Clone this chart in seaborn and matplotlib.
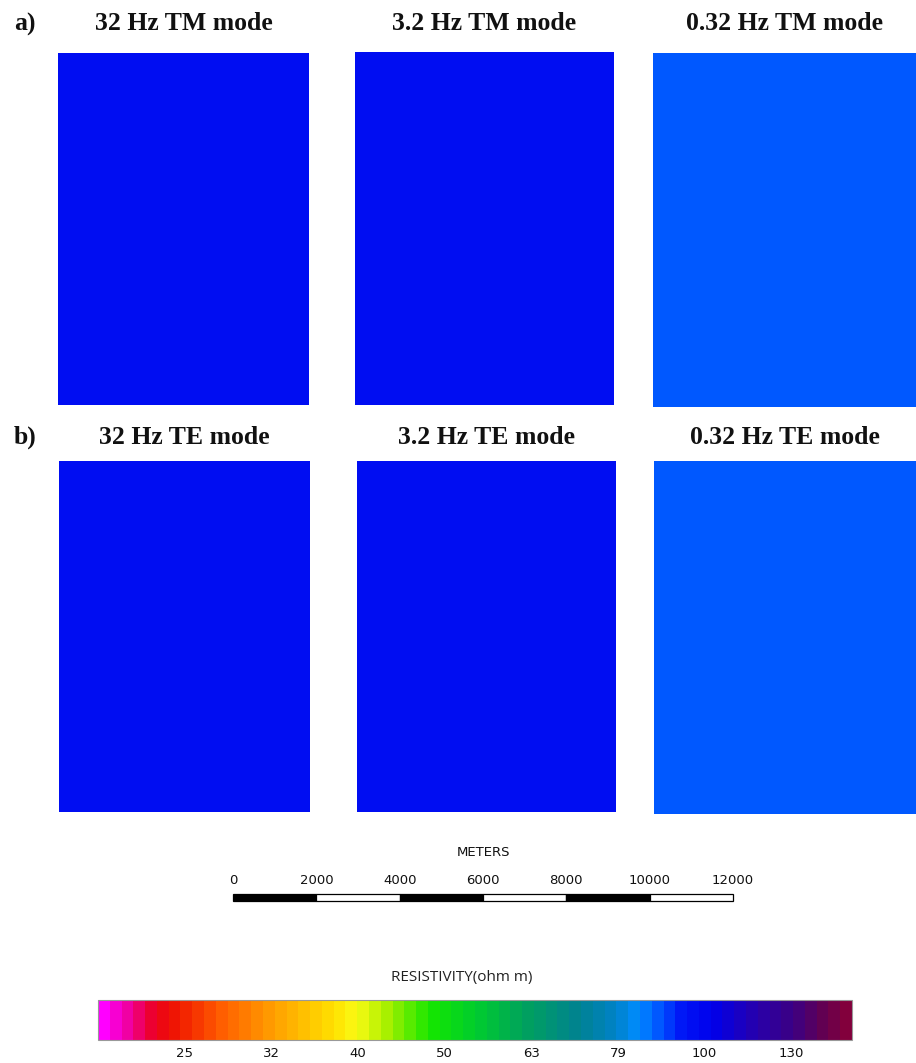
import numpy as np
import matplotlib
matplotlib.use("Agg")
import matplotlib.pyplot as plt
import seaborn as sns
from matplotlib.colors import LinearSegmentedColormap, LogNorm
from matplotlib.cm import ScalarMappable

# Resistivity (ohm m) of each section, left to right: 32 Hz, 3.2 Hz, 0.32 Hz
tm_rho = [96.0, 96.0, 88.5]
te_rho = [96.0, 96.0, 88.5]
tm_titles = ["32 Hz TM mode", "3.2 Hz TM mode", "0.32 Hz TM mode"]
te_titles = ["32 Hz TE mode", "3.2 Hz TE mode", "0.32 Hz TE mode"]
row_labels = ["a)", "b)"]

# Colour scale (log resistivity)
rho_min, rho_max = 10 ** 1.30, 10 ** 2.17
rho_ticks = [25.1, 31.6, 39.8, 50.1, 63.1, 79.4, 100.0, 125.9]
rho_tick_labels = ["25", "32", "40", "50", "63", "79", "100", "130"]

# Distance scale bar (metres)
scale_ticks = [0, 2000, 4000, 6000, 8000, 10000, 12000]

W, H = 916, 1063
sns.set_theme(style="white")
plt.rcParams["font.family"] = ["DejaVu Sans"]

fig = plt.figure(figsize=(W / 100, H / 100), dpi=100)
fig.patch.set_facecolor("white")


def box(x0, y0, x1, y1):
    return [x0 / W, 1 - y1 / H, (x1 - x0) / W, (y1 - y0) / H]


anchors = [
    (0.00, (255, 0, 255)), (0.03, (240, 0, 170)), (0.07, (235, 0, 25)),
    (0.10, (240, 25, 0)), (0.16, (255, 95, 0)), (0.23, (255, 160, 0)),
    (0.31, (255, 225, 0)), (0.34, (250, 250, 20)), (0.38, (170, 240, 0)),
    (0.44, (20, 230, 0)), (0.50, (0, 205, 45)), (0.57, (0, 160, 95)),
    (0.64, (0, 130, 145)), (0.69, (0, 130, 200)), (0.72, (0, 140, 255)),
    (0.75, (0, 80, 255)), (0.78, (0, 20, 245)), (0.82, (0, 0, 235)),
    (0.88, (40, 0, 170)), (0.93, (60, 0, 130)), (0.97, (100, 0, 80)),
    (1.00, (130, 0, 60)),
]
cmap = LinearSegmentedColormap.from_list(
    "resistivity", [(p, tuple(c / 255 for c in rgb)) for p, rgb in anchors], N=64
)
norm = LogNorm(vmin=rho_min, vmax=rho_max)

panel_boxes = [
    [(58, 53, 309, 405), (355, 52, 614, 405), (653, 53, 916, 407)],
    [(59, 461, 310, 812), (357, 461, 616, 812), (654, 461, 916, 814)],
]
title_y = [24, 437]
title_font = dict(family=["Liberation Serif", "DejaVu Serif"], weight="bold",
                  size=18.5, color="#111111")

for r, (vals, titles) in enumerate([(tm_rho, tm_titles), (te_rho, te_titles)]):
    for c in range(3):
        x0, y0, x1, y1 = panel_boxes[r][c]
        ax = fig.add_axes(box(x0, y0, x1, y1))
        grid = np.full((1, 1), vals[c])
        sns.heatmap(grid, ax=ax, cmap=cmap, norm=norm, cbar=False,
                    xticklabels=False, yticklabels=False)
        fig.text((x0 + x1) / 2 / W, 1 - title_y[r] / H, titles[c],
                 ha="center", va="center", **title_font)
    fig.text(25 / W, 1 - title_y[r] / H, row_labels[r],
             ha="center", va="center", **title_font)

# Scale bar
ax_sb = fig.add_axes(box(233, 894, 733, 901))
starts = scale_ticks[:-1]
seg_colors = ["black" if i % 2 == 0 else "white" for i in range(len(starts))]
bars = ax_sb.barh(0, width=np.diff(scale_ticks), left=starts, height=1.0,
                  color=seg_colors, edgecolor="black", linewidth=0.9)
for b in bars:
    b.set_clip_on(False)
ax_sb.set_xlim(scale_ticks[0], scale_ticks[-1])
ax_sb.set_ylim(-0.5, 0.5)
ax_sb.set_facecolor("none")
for s in ax_sb.spines.values():
    s.set_visible(False)
ax_sb.set_yticks([])
ax_sb.set_xticks(scale_ticks)
ax_sb.set_xticklabels([str(t) for t in scale_ticks])
ax_sb.tick_params(axis="x", top=False, bottom=False, labeltop=True,
                  labelbottom=False, length=0, pad=5, labelsize=9.5,
                  labelcolor="#111111")
fig.text(483 / W, 1 - 852 / H, "METERS", ha="center", va="center",
         fontsize=9.5, color="#111111")

# Colour bar
cax = fig.add_axes(box(98, 1000, 852, 1040))
sm = ScalarMappable(norm=norm, cmap=cmap)
cb = fig.colorbar(sm, cax=cax, orientation="horizontal")
cb.set_ticks(rho_ticks)
cb.set_ticklabels(rho_tick_labels)
cb.minorticks_off()
cax.tick_params(axis="x", length=0, pad=5, labelsize=9.5, labelcolor="#111111")
cb.outline.set_edgecolor("#999999")
cb.outline.set_linewidth(0.8)
fig.text(462 / W, 1 - 978 / H, "RESISTIVITY(ohm m)", ha="center", va="center",
         fontsize=11, color="#222222", family=["Open Sans", "DejaVu Sans"])

fig.savefig("out.png", dpi=100, facecolor="white")
